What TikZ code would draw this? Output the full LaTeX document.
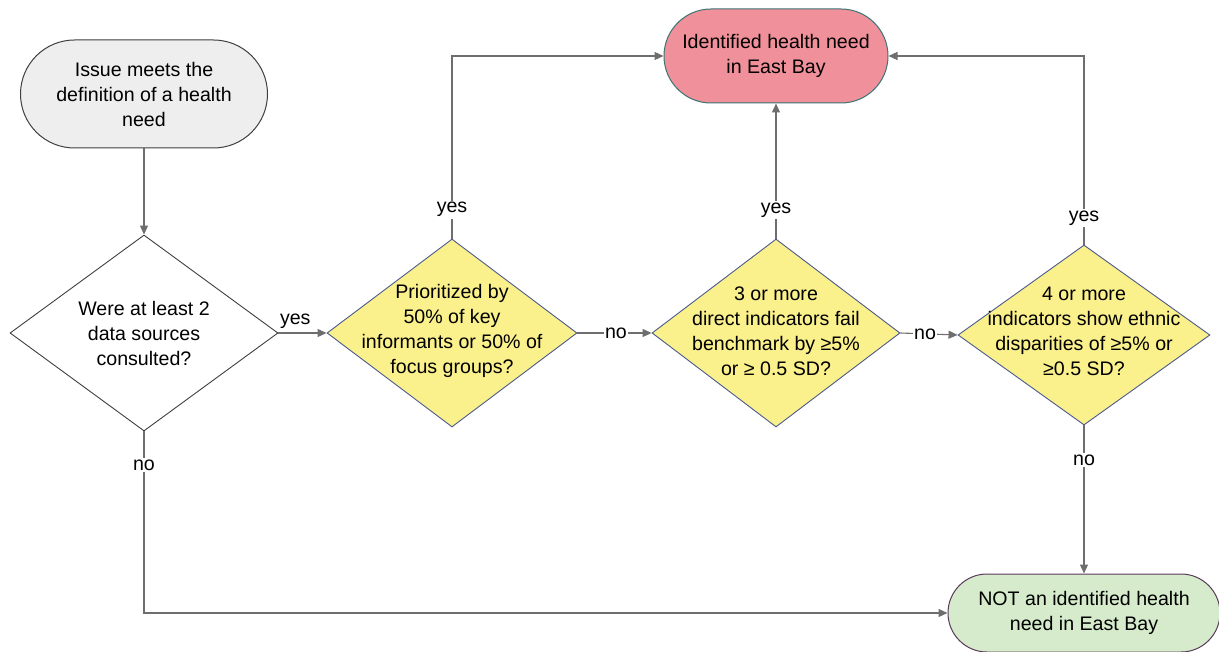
\documentclass[tikz,border=0pt]{standalone}
\usepackage{fontspec}
\setmainfont{Liberation Sans}
\usetikzlibrary{arrows.meta,shapes.geometric}
\definecolor{linegray}{HTML}{6E6E6E}
\definecolor{startfill}{HTML}{EEEEEE}
\definecolor{startborder}{HTML}{404040}
\definecolor{redfill}{HTML}{F0909A}
\definecolor{redborder}{HTML}{3A7474}
\definecolor{yelfill}{HTML}{FAF08C}
\definecolor{yelborder}{HTML}{4C5A8C}
\definecolor{grnfill}{HTML}{D5EBCB}
\definecolor{grnborder}{HTML}{5A3A5A}
\begin{document}
\begin{tikzpicture}[x=1pt,y=-1pt,
  txt/.style={align=center, font=\fontsize{19.6}{25}\selectfont, text=black},
  term/.style={draw, line width=1pt, txt, inner sep=0pt},
  dia/.style={diamond, draw, line width=0.9pt, inner sep=0pt},
  conn/.style={draw=linegray, line width=1.1pt, -{Triangle[length=9pt,width=8pt]}},
  lbl/.style={fill=white, inner sep=1.5pt, txt}
]
\useasboundingbox (0,0) rectangle (1219,652);
\fill[white] (0,0) rectangle (1219,652);

% terminals
\node[term, draw=startborder, fill=startfill, rounded corners=54pt,
      minimum width=247pt, minimum height=108pt] (s) at (144,94)
      {Issue meets the\\definition of a health\\need};
\node[term, draw=redborder, fill=redfill, rounded corners=47pt,
      minimum width=224pt, minimum height=94pt] (r) at (776,56)
      {Identified health need\\in East Bay};
\node[term, draw=grnborder, fill=grnfill, rounded corners=39pt,
      minimum width=272pt, minimum height=78pt] (g) at (1084,613)
      {NOT an identified health\\need in East Bay};

% decisions
\node[dia, draw=startborder, fill=white, minimum width=268pt, minimum height=196pt] (d1) at (144,333) {};
\node[txt] at (d1) {Were at least 2\\data sources\\consulted?};
\node[dia, draw=yelborder, fill=yelfill, minimum width=250pt, minimum height=188pt] (d2) at (452,333) {};
\node[txt] at ([yshift=2pt]d2) {Prioritized by\\50\% of key\\informants or 50\% of\\focus groups?};
\node[dia, draw=yelborder, fill=yelfill, minimum width=248pt, minimum height=188pt] (d3) at (776,333) {};
\node[txt] at ([yshift=2pt]d3) {3 or more\\direct indicators fail\\benchmark by ≥5\%\\or ≥ 0.5 SD?};
\node[dia, draw=yelborder, fill=yelfill, minimum width=252pt, minimum height=180pt] (d4) at (1084,335) {};
\node[txt] at ([yshift=4pt]d4) {4 or more\\indicators show ethnic\\disparities of ≥5\% or\\≥0.5 SD?};

% connectors
\draw[conn] (s) -- (d1);
\draw[conn] (d1.east) -- (d2.west) node[txt, above, pos=0.35, inner sep=4pt] {yes};
\draw[conn] (d1.south) |- (g.west) node[lbl, pos=0.093] {no};
\draw[conn] (d2.north) |- (r.west) node[lbl, pos=0.079] {yes};
\draw[conn] (d2.east) -- (d3.west) node[lbl, pos=0.52] {no};
\draw[conn] (d3.north) -- (r.south) node[lbl, pos=0.21] {yes};
\draw[conn] (d3.east) -- (d4.west) node[lbl, pos=0.43] {no};
\draw[conn] (d4.north) |- (r.east) node[lbl, pos=0.071] {yes};
\draw[conn] (d4.south) -- (g.north) node[lbl, pos=0.235] {no};
\end{tikzpicture}
\end{document}
